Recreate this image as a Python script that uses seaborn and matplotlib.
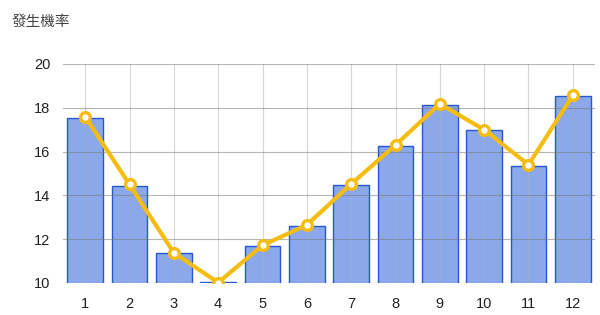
import matplotlib
matplotlib.use("Agg")
import matplotlib.pyplot as plt
import seaborn as sns
import pandas as pd

months = ["1", "2", "3", "4", "5", "6", "7", "8", "9", "10", "11", "12"]
bar_values = [17.55, 14.45, 11.36, 10.04, 11.7, 12.62, 14.48, 16.25, 18.13, 16.97, 15.36, 18.52]
line_values = [17.6, 14.5, 11.38, 10.02, 11.72, 12.65, 14.52, 16.3, 18.18, 17.0, 15.4, 18.57]
y_ticks = [10, 12, 14, 16, 18, 20]
title = "發生機率"

sns.set_theme(style="white")
plt.rcParams['font.family'] = ['Liberation Sans', 'Noto Sans CJK TC', 'DejaVu Sans']

df = pd.DataFrame({"month": months, "bar": bar_values, "line": line_values})

fig = plt.figure(figsize=(6, 3.15), dpi=100)
ax = fig.add_axes([63/600, 1 - 283/315, 532/600, 219/315])

sns.barplot(data=df, x="month", y="bar", ax=ax, width=0.81,
            color="#8aa8ea", edgecolor="#2458d0", linewidth=1.0, saturation=1, zorder=1)
sns.pointplot(data=df, x="month", y="line", ax=ax, color="#f5bc12",
              linewidth=3, markersize=7, markerfacecolor="white",
              markeredgewidth=2.4, markeredgecolor="#f5bc12", zorder=4)

ax.set_ylim(10, 20)
ax.set_xlim(-0.5, 11.5)
ax.set_yticks(y_ticks)
ax.set_axisbelow(False)
ax.grid(axis="y", color="#7a7a7a", linewidth=0.8, alpha=0.55, zorder=2.5)
ax.grid(axis="x", color="#b0b0b0", linewidth=0.8, alpha=0.5, zorder=2.5)
for s in ax.spines.values():
    s.set_visible(False)
ax.tick_params(axis="both", length=0, labelsize=10.5, colors="#222222")
ax.tick_params(axis="x", pad=10)
ax.tick_params(axis="y", pad=9)
ax.set_xlabel("")
ax.set_ylabel("")
fig.text(12/600, 1 - 22/315, title, fontsize=10.5, color="#444444",
         family=['Noto Sans CJK TC', 'DejaVu Sans'], va="center", ha="left")

fig.savefig("out.png", dpi=100)
